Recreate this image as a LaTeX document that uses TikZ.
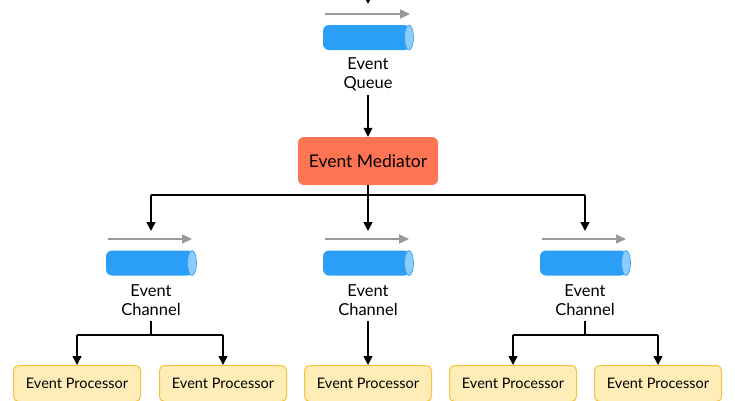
\documentclass[tikz,border=0pt]{standalone}
\usepackage{fontspec}
\setmainfont{Lato}
\usetikzlibrary{arrows.meta,shapes.geometric}
\definecolor{cylc}{HTML}{2B9FF8}
\definecolor{capc}{HTML}{8CCBFB}
\definecolor{medc}{HTML}{FF7452}
\definecolor{procc}{HTML}{FFEDB8}
\definecolor{procb}{HTML}{F7C23C}
\begin{document}
\begin{tikzpicture}[x=1pt,y=-1pt,
  con/.style={draw=black,line width=1.5pt,-{Triangle[length=9pt,width=9pt]}},
  flow/.style={draw=gray!80,line width=1.5pt,-{Triangle[length=10pt,width=9pt]}},
  lbl/.style={align=center,font=\fontsize{16.5}{19}\selectfont,inner sep=0pt},
  procn/.style={draw=procb,fill=procc,rounded corners=5pt,line width=1pt,minimum width=127pt,minimum height=36pt,font=\fontsize{14.5}{16}\selectfont,anchor=north}]
\useasboundingbox (0,0) rectangle (735,400);
\newcommand{\mycyl}[3]{% name, cx, cy
  \fill[cylc,rounded corners=6pt] (#2-45,#3-12.5) rectangle (#2+42,#3+12.5);
  \fill[capc] (#2+41,#3) ellipse [x radius=4.5pt,y radius=12.5pt];
  \draw[cylc,line width=0.6pt] (#2+41,#3) ellipse [x radius=4.5pt,y radius=12.5pt];
  \coordinate (#1) at (#2,#3);}
% top
\coordinate (t0) at (368,-2);
\coordinate (t1) at (368,4);
\draw[con] (t0) -- (t1);
\coordinate (qa) at (325,14); \coordinate (qb) at (410,14);
\draw[flow] (qa) -- (qb);
\mycyl{q}{368}{37.5}
\node[lbl] (ql) at (368,74) {Event\\Queue};
\node[draw=none,fill=medc,rounded corners=6pt,minimum width=140pt,minimum height=48pt,font=\fontsize{17.5}{19}\selectfont] (m) at (368,161) {Event Mediator};
\coordinate (qs) at (368,95);
\draw[con] (qs) -- (m.north);
\coordinate (j) at (368,195);
\draw[line width=1.5pt] (m.south) -- (j);
\foreach \i/\x in {1/151,2/368,3/585}{
  \coordinate (h\i) at (\x,195);
  \coordinate (c\i) at (\x,231);
}
\draw[line width=1.5pt] (h1) -- (h3);
\foreach \i in {1,2,3}{\draw[con] (h\i) -- (c\i);}
\foreach \i/\x in {1/151,2/368,3/585}{
  \coordinate (fa\i) at (\x-43,239); \coordinate (fb\i) at (\x+41,239);
  \draw[flow] (fa\i) -- (fb\i);
  \mycyl{cy\i}{\x}{263}
  \node[lbl] (cl\i) at (\x,300) {Event\\Channel};
}
\foreach \i/\x in {1/77,2/223,3/368,4/513,5/658}{
  \node[procn] (p\i) at (\x,365) {Event Processor};
}
\foreach \i/\a/\b in {1/p1/p2,3/p4/p5}{
  \coordinate (s\i) at (cl\i.south|-0,321);
  \coordinate (k\i) at (cl\i.south|-0,335);
  \draw[line width=1.5pt] (s\i) -- (k\i);
  \draw[line width=1.5pt] (\a.north|-k\i) -- (\b.north|-k\i);
  \draw[con] (\a.north|-k\i) -- (\a.north);
  \draw[con] (\b.north|-k\i) -- (\b.north);
}
\coordinate (s2) at (368,321);
\draw[con] (s2) -- (p3.north);
\end{tikzpicture}
\end{document}
